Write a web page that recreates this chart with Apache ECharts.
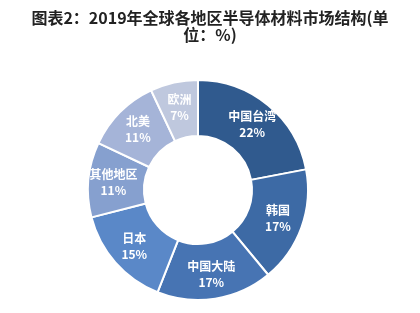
<!DOCTYPE html>
<html>
<head>
<meta charset="utf-8">
<script src="https://cdn.jsdelivr.net/npm/echarts@6/dist/echarts.min.js"></script>
<style>
  html, body { margin: 0; padding: 0; background: #fff; }
  #chart { width: 420px; height: 313px; }
</style>
</head>
<body>
<div id="chart"></div>
<script>
// 2019年全球各地区半导体材料市场结构
const regions = ['中国台湾', '韩国', '中国大陆', '日本', '其他地区', '北美', '欧洲']
const shares = [22, 17, 17, 15, 11, 11, 7]
const colors = ['#305a8e', '#3d6aa5', '#4774b3', '#5a88c8', '#86a0cf', '#a5b4d8', '#bfc8de']

const myChart = echarts.init(document.getElementById('chart'))

const option = {
  animation: false,
  graphic: [
    {
      type: 'text',
      left: 'center',
      top: 9,
      style: {
        text: '图表2：2019年全球各地区半导体材料市场结构(单\n位：%)',
        textAlign: 'center',
        fill: '#222',
        font: 'bold 16px "Noto Sans CJK SC"',
        lineHeight: 17
      }
    }
  ],
  series: [
    {
      type: 'pie',
      center: [198, 190],
      radius: [54, 110],
      startAngle: 90,
      clockwise: true,
      itemStyle: {
        borderColor: '#fff',
        borderWidth: 2
      },
      label: {
        show: true,
        position: 'inside',
        color: '#fff',
        fontFamily: 'Noto Sans CJK SC',
        fontWeight: 'bold',
        fontSize: 12,
        lineHeight: 16,
        formatter: (params) => `${params.name}\n${params.value}%`
      },
      labelLine: { show: false },
      data: regions.map((name, i) => ({
        name,
        value: shares[i],
        itemStyle: { color: colors[i] }
      }))
    }
  ]
}

myChart.setOption(option)
</script>
</body>
</html>
